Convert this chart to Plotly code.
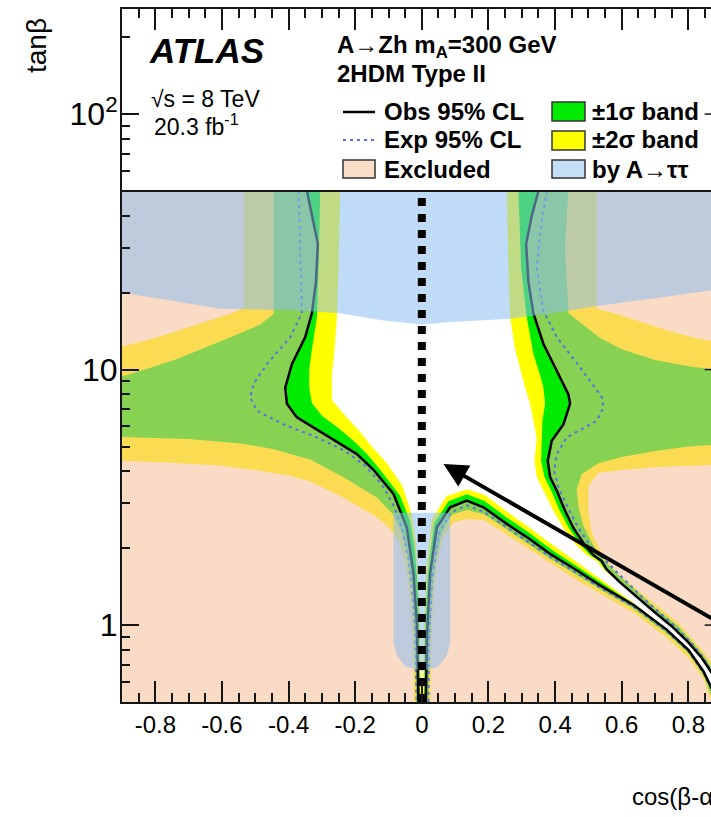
import math
import plotly.graph_objects as go

# ---------------------------------------------------------------
# Contours in the (cos(beta-alpha), tan(beta)) plane
# ---------------------------------------------------------------
OBS_LEFT = [(-0.345, 50), (-0.33, 40), (-0.312, 31), (-0.318, 22), (-0.33, 16.6), (-0.35, 13.4),
            (-0.39, 10.5), (-0.41, 8.5), (-0.405, 7.35), (-0.375, 6.5), (-0.295, 5.6), (-0.245, 5.1),
            (-0.195, 4.67), (-0.145, 4.05), (-0.085, 3.26), (-0.045, 2.41), (-0.025, 1.59),
            (-0.015, 1.01), (-0.01, 0.5)]
OBS_OUTER = [(0.35, 50), (0.33, 40), (0.313, 31), (0.32, 22), (0.335, 16.6), (0.365, 12.6),
             (0.405, 9.9), (0.44, 8.0), (0.445, 7.35), (0.425, 6.1), (0.39, 5.27), (0.378, 4.4),
             (0.385, 3.8), (0.405, 3.36), (0.43, 2.8), (0.455, 2.4), (0.49, 2.05), (0.515, 1.88),
             (0.54, 1.78), (0.555, 1.65), (0.595, 1.47), (0.65, 1.27), (0.70, 1.12), (0.75, 0.99),
             (0.80, 0.855), (0.84, 0.745), (0.87, 0.65), (0.895, 0.56), (0.905, 0.5)]
OBS_INNER = [(0.012, 0.5), (0.015, 0.87), (0.025, 1.59), (0.045, 2.41), (0.085, 2.89), (0.135, 3.07),
             (0.185, 2.89), (0.255, 2.49), (0.315, 2.21), (0.385, 1.90), (0.465, 1.64), (0.535, 1.43),
             (0.635, 1.2), (0.735, 0.96), (0.80, 0.8), (0.845, 0.66), (0.875, 0.55), (0.885, 0.5)]

EXP_LEFT = [(-0.37, 50), (-0.365, 30), (-0.36, 16.6), (-0.395, 13.4), (-0.465, 10.5), (-0.505, 8.8),
            (-0.515, 7.8), (-0.495, 6.9), (-0.415, 6.1), (-0.315, 5.43), (-0.23, 4.8), (-0.17, 4.2),
            (-0.12, 3.55), (-0.085, 2.95), (-0.06, 2.4), (-0.04, 1.8), (-0.028, 1.3), (-0.02, 0.9),
            (-0.016, 0.5)]
EXP_OUTER = [(0.375, 50), (0.36, 38), (0.345, 25), (0.365, 17), (0.405, 13.4), (0.475, 10.2),
             (0.54, 7.8), (0.545, 7.1), (0.525, 6.3), (0.435, 5.43), (0.405, 4.67), (0.397, 4.0),
             (0.412, 3.4), (0.44, 2.85), (0.47, 2.4), (0.505, 2.05), (0.545, 1.82), (0.575, 1.66),
             (0.61, 1.5), (0.66, 1.29), (0.71, 1.13), (0.76, 0.99), (0.81, 0.85), (0.85, 0.73),
             (0.88, 0.62), (0.9, 0.53)]
EXP_INNER = [(0.02, 0.5), (0.022, 0.87), (0.031, 1.5), (0.052, 2.3), (0.088, 2.76), (0.135, 2.94),
             (0.185, 2.78), (0.255, 2.41), (0.315, 2.14), (0.385, 1.85), (0.465, 1.6), (0.535, 1.4),
             (0.635, 1.18), (0.735, 0.945), (0.80, 0.79), (0.845, 0.65), (0.875, 0.54), (0.885, 0.5)]

# +-2 sigma band: edge on the excluded side (A) and on the allowed side (B)
BAND2_LEFT_A = [(-0.535, 50), (-0.535, 25), (-0.535, 17.5), (-0.57, 16.6), (-0.62, 15.8), (-0.7, 14.6),
                (-0.8, 13.3), (-0.9, 12.3), (-0.9, 4.4), (-0.75, 4.32), (-0.6, 4.2), (-0.5, 4.05),
                (-0.4, 3.85), (-0.335, 3.65), (-0.235, 3.16), (-0.135, 2.64), (-0.09, 2.35),
                (-0.068, 2.1), (-0.052, 1.8), (-0.04, 1.45), (-0.032, 1.1), (-0.027, 0.8), (-0.024, 0.5)]
BAND2_LEFT_B = [(-0.245, 50), (-0.25, 25), (-0.255, 16), (-0.262, 12), (-0.27, 9.5), (-0.27, 8.3),
                (-0.27, 7.6), (-0.235, 6.7), (-0.19, 5.8), (-0.15, 5.0), (-0.105, 4.3), (-0.058, 3.5),
                (-0.03, 2.7), (-0.018, 2.1), (-0.011, 1.5), (-0.005, 1.0), (-0.002, 0.5)]
BAND2_RIGHT_A = [(0.525, 50), (0.525, 25), (0.525, 17.3), (0.585, 16.5), (0.65, 15.5), (0.74, 14.2),
                 (0.82, 13.3), (0.9, 12.7), (0.9, 4.25), (0.8, 4.2), (0.7, 4.15), (0.6, 4.05),
                 (0.53, 3.95), (0.5, 3.5), (0.5, 2.8), (0.51, 2.3), (0.545, 1.85), (0.59, 1.58),
                 (0.64, 1.4), (0.7, 1.21), (0.77, 1.02), (0.84, 0.8), (0.9, 0.63), (0.92, 0.5)]
BAND2_RIGHT_B = [(0.255, 50), (0.26, 25), (0.265, 16), (0.28, 12), (0.295, 10), (0.31, 8.5),
                 (0.325, 7.35), (0.335, 6.3), (0.345, 5.4), (0.338, 4.4), (0.345, 3.8), (0.365, 3.36),
                 (0.395, 2.8), (0.425, 2.4), (0.465, 2.05), (0.495, 1.88), (0.525, 1.78), (0.545, 1.65),
                 (0.59, 1.47), (0.648, 1.27), (0.699, 1.12), (0.75, 0.99), (0.80, 0.855), (0.84, 0.745),
                 (0.87, 0.65), (0.895, 0.56), (0.905, 0.5)]
BAND2_INNER_A = [(0.026, 0.5), (0.029, 0.87), (0.035, 1.25), (0.046, 1.75), (0.065, 2.22), (0.095, 2.52),
                 (0.135, 2.6), (0.185, 2.58), (0.255, 2.26), (0.315, 2.01), (0.385, 1.74), (0.465, 1.5),
                 (0.535, 1.33), (0.635, 1.12), (0.735, 0.895), (0.80, 0.745), (0.845, 0.615), (0.87, 0.5)]
BAND2_INNER_B = [(0.003, 0.5), (0.005, 0.87), (0.012, 1.59), (0.03, 2.6), (0.075, 3.2), (0.135, 3.4),
                 (0.19, 3.22), (0.26, 2.75), (0.32, 2.42), (0.39, 2.07), (0.47, 1.74), (0.54, 1.5),
                 (0.636, 1.22), (0.735, 0.965), (0.80, 0.8), (0.845, 0.66), (0.875, 0.55), (0.885, 0.5)]

# +-1 sigma band
BAND1_LEFT_A = [(-0.445, 50), (-0.445, 25), (-0.445, 16.5), (-0.485, 15.0), (-0.585, 13.2), (-0.735, 11.0),
                (-0.8, 10.3), (-0.9, 9.4), (-0.9, 5.45), (-0.7, 5.35), (-0.55, 5.15), (-0.45, 4.9),
                (-0.335, 4.45), (-0.235, 3.79), (-0.135, 3.16), (-0.085, 2.7), (-0.06, 2.3),
                (-0.043, 1.9), (-0.03, 1.4), (-0.022, 1.0), (-0.017, 0.5)]
BAND1_LEFT_B = [(-0.305, 50), (-0.31, 25), (-0.315, 16), (-0.33, 12), (-0.338, 10), (-0.338, 8.5),
                (-0.33, 7.4), (-0.3, 6.6), (-0.25, 5.9), (-0.2, 5.2), (-0.16, 4.6), (-0.115, 3.9),
                (-0.065, 3.2), (-0.035, 2.55), (-0.022, 2.0), (-0.014, 1.5), (-0.009, 1.0), (-0.006, 0.5)]
BAND1_RIGHT_A = [(0.44, 50), (0.43, 30), (0.44, 16.6), (0.5, 14.4), (0.535, 13.3), (0.6, 12.0),
                 (0.7, 10.9), (0.8, 10.3), (0.9, 9.9), (0.9, 5.1), (0.8, 5.0), (0.7, 4.8), (0.6, 4.55),
                 (0.53, 4.3), (0.48, 3.9), (0.465, 3.4), (0.47, 2.9), (0.485, 2.45), (0.515, 2.05),
                 (0.555, 1.75), (0.595, 1.55), (0.645, 1.36), (0.7, 1.17), (0.77, 0.99), (0.84, 0.78),
                 (0.9, 0.6), (0.915, 0.5)]
BAND1_RIGHT_B = [(0.29, 50), (0.298, 25), (0.315, 16), (0.335, 11.5), (0.355, 9.5), (0.365, 8.5),
                 (0.37, 7.35), (0.362, 6.3), (0.36, 5.4), (0.358, 4.4), (0.368, 3.8), (0.388, 3.36),
                 (0.414, 2.8), (0.441, 2.4), (0.478, 2.05), (0.505, 1.88), (0.532, 1.78), (0.55, 1.65),
                 (0.592, 1.47), (0.649, 1.27), (0.7, 1.12), (0.75, 0.99), (0.80, 0.855), (0.84, 0.745),
                 (0.87, 0.65), (0.895, 0.56), (0.905, 0.5)]
BAND1_INNER_A = [(0.02, 0.5), (0.024, 0.87), (0.03, 1.3), (0.04, 1.75), (0.06, 2.3), (0.09, 2.7),
                 (0.135, 2.82), (0.185, 2.72), (0.255, 2.37), (0.315, 2.1), (0.385, 1.82), (0.465, 1.57),
                 (0.535, 1.38), (0.635, 1.16), (0.735, 0.93), (0.80, 0.775), (0.845, 0.64), (0.875, 0.5)]
BAND1_INNER_B = [(0.007, 0.5), (0.009, 0.87), (0.018, 1.59), (0.037, 2.5), (0.08, 3.05), (0.135, 3.25),
                 (0.188, 3.06), (0.258, 2.62), (0.318, 2.32), (0.388, 1.98), (0.467, 1.7), (0.537, 1.47),
                 (0.636, 1.21), (0.735, 0.96), (0.80, 0.8), (0.845, 0.66), (0.875, 0.55), (0.885, 0.5)]

# regions excluded by A -> tau tau
ATT_TOP = [(-0.9, 50), (0.9, 50), (0.9, 20.8), (0.865, 20.4), (0.7, 19.0), (0.535, 17.8), (0.4, 16.7),
           (0.265, 15.8), (0.065, 15.3), (0.0, 15.0), (-0.12, 15.6), (-0.245, 16.6), (-0.4, 17.1),
           (-0.605, 17.3), (-0.75, 18.6), (-0.9, 20.0)]
ATT_LOW = [(-0.085, 2.75), (0.085, 2.75), (0.085, 0.85), (0.075, 0.76), (0.05, 0.69), (0.0, 0.66),
           (-0.05, 0.69), (-0.075, 0.76), (-0.085, 0.85)]

# axes
X_RANGE = [-0.9, 0.868]
X_FRAME = 0.9
T_RANGE = [0.5, 257.8]
T_LEGEND_EDGE = 50
X_TICKS = [-0.8, -0.6, -0.4, -0.2, 0.0, 0.2, 0.4, 0.6, 0.8]
X_TICK_TEXT = ["-0.8", "-0.6", "-0.4", "-0.2", "0", "0.2", "0.4", "0.6", "0.8"]
X_MINOR = [round(-0.9 + 0.05 * i, 2) for i in range(36)]
Y_TICKS = [1, 10, 100]
Y_TICK_TEXT = ["1", "10", "10<sup>2</sup>"]
Y_MINOR = [0.5, 0.6, 0.7, 0.8, 0.9, 2, 3, 4, 5, 6, 7, 8, 9, 20, 30, 40, 50, 60, 70, 80, 90, 200]

# arrow marking the alignment limit
ARROW_HEAD = (0.065, 4.27)
ARROW_TAIL = (0.92, 0.975)

# colours
YELLOW = "#FFFF00"
GREEN = "rgb(0,235,0)"
PEACH = "rgba(245,190,150,0.55)"
BLUE = "rgba(140,190,240,0.55)"
EXP_COLOR = "rgb(90,110,230)"
INK = "#151515"
FONT = "Liberation Sans, Arial, Helvetica, sans-serif"

# figure geometry (pixels)
W, H = 711, 817
ML, MT, MB = 122, 9, 115
PW, PH = W - ML, H - MT - MB


def paper_x(px):
    return (px - ML) / PW


def paper_y(py):
    return (MT + PH - py) / PH


fig = go.Figure()


def add_poly(points, color):
    xs, ts = zip(*points)
    fig.add_trace(go.Scatter(x=xs, y=ts, mode="lines", fill="toself", fillcolor=color,
                             line=dict(width=0), hoverinfo="skip", showlegend=False))


def add_curve(points, color, width, dash="solid"):
    xs, ts = zip(*points)
    fig.add_trace(go.Scatter(x=xs, y=ts, mode="lines", line=dict(color=color, width=width, dash=dash),
                             hoverinfo="skip", showlegend=False))


def band(edge_a, edge_b):
    return edge_a + edge_b[::-1]


# uncertainty bands
for a, b in [(BAND2_LEFT_A, BAND2_LEFT_B), (BAND2_RIGHT_A, BAND2_RIGHT_B), (BAND2_INNER_A, BAND2_INNER_B)]:
    add_poly(band(a, b), YELLOW)
for a, b in [(BAND1_LEFT_A, BAND1_LEFT_B), (BAND1_RIGHT_A, BAND1_RIGHT_B), (BAND1_INNER_A, BAND1_INNER_B)]:
    add_poly(band(a, b), GREEN)

# observed exclusion (translucent)
x_lo, t_lo = -0.9, T_RANGE[0]
add_poly([(x_lo, T_LEGEND_EDGE)] + OBS_LEFT + [(x_lo, t_lo)], PEACH)
add_poly(OBS_INNER, PEACH)
add_poly(OBS_OUTER + [(X_FRAME + 0.02, t_lo), (X_FRAME + 0.02, T_LEGEND_EDGE)], PEACH)

# expected and observed limits
for c in (EXP_LEFT, EXP_OUTER, EXP_INNER):
    add_curve(c, EXP_COLOR, 2, "3px,4px")
for c in (OBS_LEFT, OBS_OUTER, OBS_INNER):
    add_curve(c, "black", 2.5)

# A -> tau tau exclusion overlay
add_poly(ATT_TOP, BLUE)
add_poly(ATT_LOW, BLUE)

# upper edge of the contour area (bottom of the legend pad)
add_curve([(-0.9, T_LEGEND_EDGE), (X_FRAME, T_LEGEND_EDGE)], INK, 2)

# alignment limit cos(beta-alpha) = 0
add_curve([(0.0, t_lo), (0.0, T_LEGEND_EDGE)], "black", 8, "8px,8px")

# major ticks of the right-hand frame
for t in Y_TICKS:
    add_curve([(X_FRAME - 17 / 333.3, t), (X_FRAME, t)], INK, 1.5)

fig.add_annotation(x=ARROW_HEAD[0], y=math.log10(ARROW_HEAD[1]), ax=ARROW_TAIL[0],
                   ay=math.log10(ARROW_TAIL[1]), xref="x", yref="y", axref="x", ayref="y",
                   showarrow=True, arrowhead=2, arrowsize=1.2, arrowwidth=4, arrowcolor="black",
                   text="", standoff=0)


# texts
def label(px, py, text, size, anchor="left", angle=0):
    fig.add_annotation(x=paper_x(px), y=paper_y(py), xref="paper", yref="paper", text=text,
                       showarrow=False, xanchor=anchor, yanchor="middle", textangle=angle,
                       font=dict(family=FONT, size=size, color="black"))


label(147, 50, "<b><i>ATLAS</i></b>", 35)
label(149, 99, "√s = 8 TeV", 23)
label(152, 125, "20.3 fb<sup>-1</sup>", 23)
label(335, 47, "<b>A→Zh m<sub>A</sub>=300 GeV</b>", 24)
label(335, 74, "<b>2HDM Type II</b>", 24)
label(382, 111, "<b>Obs 95% CL</b>", 24)
label(382, 140, "<b>Exp 95% CL</b>", 24)
label(382, 169, "<b>Excluded</b>", 24)
label(590, 111, "<b>±1σ band</b>", 24)
label(590, 140, "<b>±2σ band</b>", 24)
label(590, 169, "<b>by A→ττ</b>", 24)
label(36, 46, "tanβ", 28, anchor="center", angle=-90)
label(630, 796, "cos(β-α)", 24)


# legend samples
def pshape(kind, x0, y0, x1, y1, **kw):
    fig.add_shape(type=kind, xref="paper", yref="paper", x0=paper_x(x0), y0=paper_y(y0),
                  x1=paper_x(x1), y1=paper_y(y1), **kw)


pshape("line", 343, 112, 375, 112, line=dict(color="black", width=2.5))
pshape("line", 343, 140, 375, 140, line=dict(color=EXP_COLOR, width=2, dash="3px,4px"))
pshape("rect", 343, 160, 375, 178, fillcolor="rgb(250,222,200)", line=dict(color="#333", width=1.5))
pshape("rect", 552, 102, 585, 121, fillcolor=GREEN, line=dict(color="#333", width=1.5))
pshape("rect", 552, 131, 585, 150, fillcolor=YELLOW, line=dict(color="#333", width=1.5))
pshape("rect", 552, 160, 585, 178, fillcolor="rgb(195,222,245)", line=dict(color="#333", width=1.5))

fig.update_layout(
    width=W, height=H,
    margin=dict(l=ML, r=0, t=MT, b=MB, pad=0),
    paper_bgcolor="white", plot_bgcolor="white",
    showlegend=False,
    xaxis=dict(range=X_RANGE, showgrid=False, zeroline=False, showline=True, linecolor=INK,
               linewidth=2, mirror="ticks", ticks="inside", ticklen=21, tickwidth=1.5,
               tickcolor=INK, tickvals=X_TICKS, ticktext=X_TICK_TEXT, ticklabelstandoff=0,
               tickfont=dict(family=FONT, size=24, color="black"),
               minor=dict(tickvals=X_MINOR, ticks="inside", ticklen=9, tickwidth=1.5,
                          tickcolor=INK, showgrid=False)),
    yaxis=dict(type="log", range=[math.log10(T_RANGE[0]), math.log10(T_RANGE[1])], showgrid=False,
               zeroline=False, showline=True, linecolor=INK, linewidth=2, mirror=False,
               ticks="inside", ticklen=17, tickwidth=1.5, tickcolor=INK, tickvals=Y_TICKS,
               ticktext=Y_TICK_TEXT, ticklabelstandoff=-4,
               tickfont=dict(family=FONT, size=32, color="black"),
               minor=dict(tickvals=Y_MINOR, ticks="inside", ticklen=8, tickwidth=1.5,
                          tickcolor=INK, showgrid=False)),
)

fig.write_html("out.html", config={"displayModeBar": False})
